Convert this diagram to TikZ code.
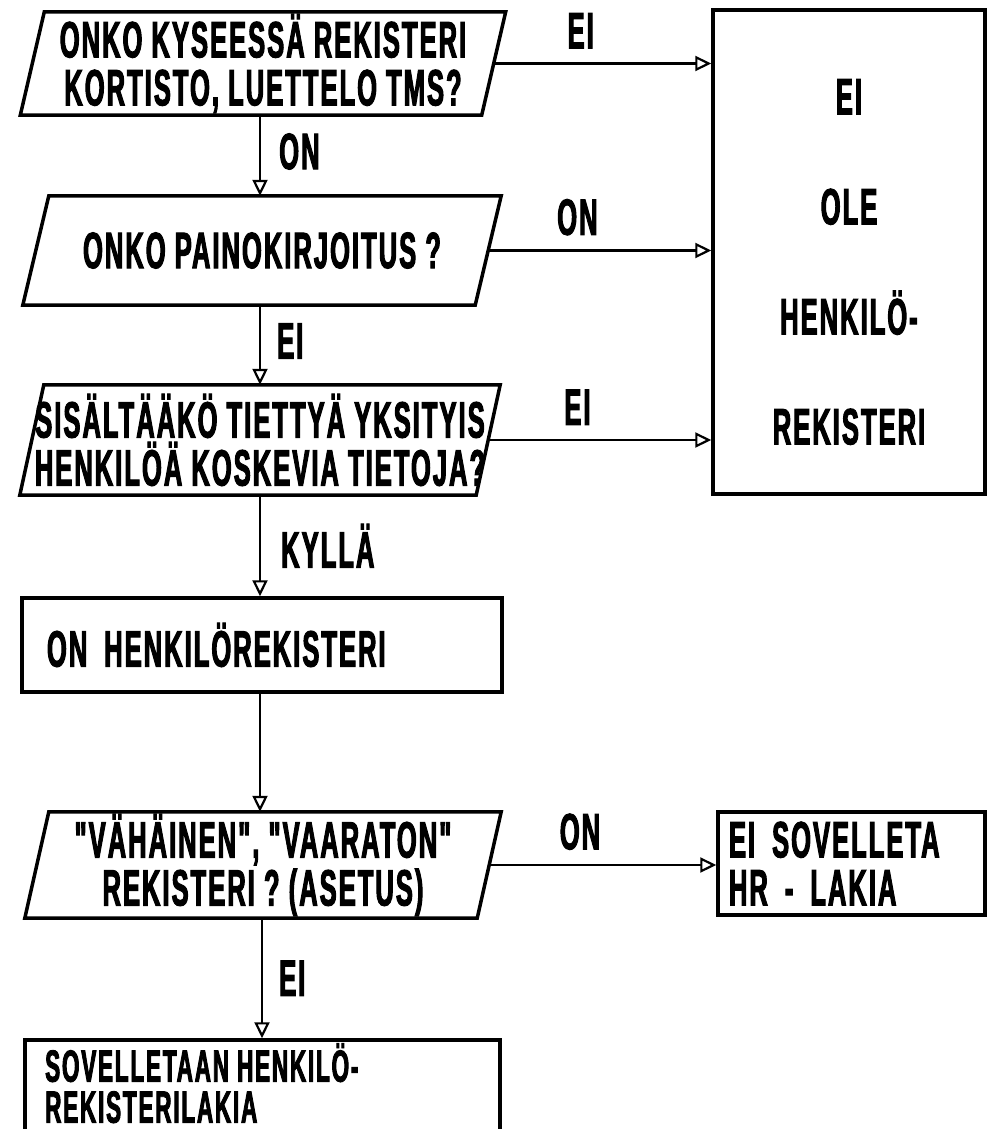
\documentclass[tikz,border=0pt]{standalone}
\usepackage{fontspec}
\setmainfont[FakeStretch=0.5,FakeBold=2,LetterSpace=4,Ligatures=TeXOff]{Liberation Sans Bold}
\usetikzlibrary{arrows.meta,calc}
\newcommand\drawpara[2]{\draw[boxline] ([xshift=#2]#1.north west) -- ([xshift=#2]#1.north east) -- ([xshift=-#2]#1.south east) -- ([xshift=-#2]#1.south west) -- cycle;}
\begin{document}
\begin{tikzpicture}[x=1pt,y=-1pt,
  txt/.style={font=\fontsize{51}{48}\selectfont, align=center, inner sep=0pt},
  lbl/.style={font=\fontsize{51}{48}\selectfont, inner sep=0pt},
  boxline/.style={line width=3.5pt, line join=miter},
  shape2/.style n args={2}{txt, minimum width=#1, minimum height=#2},
  rbox/.style n args={2}{txt, draw, line width=3.5pt, minimum width=#1, minimum height=#2},
  conn/.style={line width=2.5pt, -{Triangle[open,length=16pt,width=15pt,line width=2.2pt]}}]
\clip (0,0) rectangle (989,1129);
\fill[white] (0,0) rectangle (989,1129);

% decisions (parallelograms)
\node[shape2={461}{103}] (p1) at (263,63.5) {ONKO KYSEESSÄ REKISTERI\\KORTISTO, LUETTELO TMS?};
\drawpara{p1}{12}
\node[shape2={452}{109}] (p2) at (262,250.5) {ONKO PAINOKIRJOITUS ?};
\drawpara{p2}{13}
\node[shape2={456}{110}] (p3) at (260,440) {SISÄLTÄÄKÖ TIETTYÄ YKSITYIS\\HENKILÖÄ KOSKEVIA TIETOJA?};
\drawpara{p3}{12}
\node[shape2={452}{106}] (p4) at (263,865) {"VÄHÄINEN", "VAARATON"\\REKISTERI ? (ASETUS)};
\drawpara{p4}{12}

% boxes
\node[rbox={480}{94}, text width=430, align=left] (r) at (262,645) {ON HENKILÖREKISTERI};
\node[rbox={272}{484}] (b) at (849,252) {};
\node[txt, font=\fontsize{51}{110}\selectfont] (btxt) at (849,262) {EI\\OLE\\HENKILÖ-\\REKISTERI};
\node[rbox={267}{103}, text width=245, align=left] (s) at (851.5,863.5) {EI SOVELLETA\\HR - LAKIA};
\node[rbox={475}{140}] (lbox) at (262.5,1110) {};
\node[txt, align=left, anchor=north west, font=\fontsize{45}{41}\selectfont] (ltxt) at (45,1043) {SOVELLETAAN HENKILÖ-\\REKISTERILAKIA};

% connectors
\draw[conn] (p1.south -| 260,0) -- node[lbl, right=18pt, pos=0.45] (l1) {ON} (p2.north -| 260,0);
\draw[conn] (p2.south -| 260,0) -- node[lbl, right=16pt, pos=0.45] (l2) {EI} (p3.north -| 260,0);
\draw[conn] (p3.south -| 260,0) -- node[lbl, right=20pt, pos=0.5] (l3) {KYLLÄ} (r.north -| 260,0);
\draw[conn] (r.south -| 260,0) -- (p4.north -| 260,0);
\draw[conn] (p4.south -| 262,0) -- node[lbl, right=16pt, pos=0.5] (l4) {EI} (lbox.north -| 262,0);

\draw[conn] (p1.east) -- node[lbl, above=14pt, pos=0.4] (l5) {EI} (p1.east -| b.west);
\draw[conn] (p2.east) -- node[lbl, above=14pt, pos=0.4] (l6) {ON} (p2.east -| b.west);
\draw[conn] (p3.east) -- node[lbl, above=14pt, pos=0.4] (l7) {EI} (p3.east -| b.west);
\draw[conn] (p4.east) -- node[lbl, above=14pt, pos=0.4] (l8) {ON} (p4.east -| s.west);
\end{tikzpicture}
\end{document}
